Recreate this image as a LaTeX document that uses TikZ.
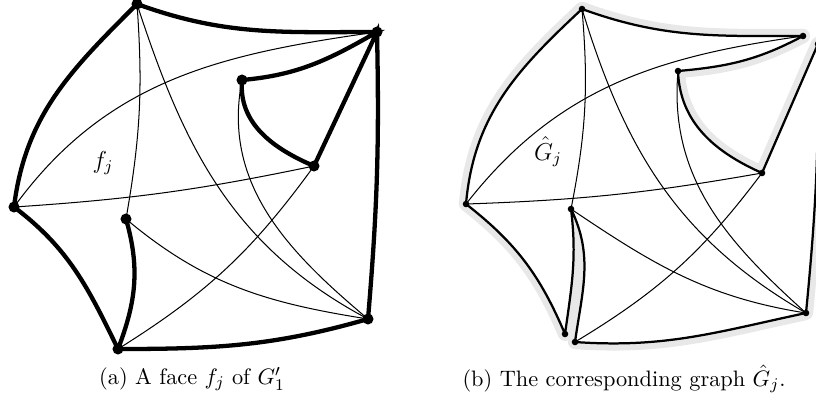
\documentclass[tikz,border=0pt]{standalone}
\usepackage{amsmath,amssymb}

\begin{document}
\begin{tikzpicture}[x=0.49pt, y=0.49pt,
    bdry/.style={line width=2.1pt},
    bdryb/.style={line width=1.1pt, line join=round},
    thinedge/.style={line width=0.5pt},
    halo/.style={draw=black!9, line width=7pt, line join=round, line cap=round},
    capt/.style={font=\fontsize{10.95}{13}\selectfont}]
    \useasboundingbox (0,0) rectangle (816,-407);
    \coordinate (aT) at (137,-4);
    \coordinate (aR) at (377,-32);
    \coordinate (aI) at (242,-80);
    \coordinate (aM) at (314,-166);
    \coordinate (aL) at (14,-207);
    \coordinate (aC) at (126,-219);
    \coordinate (aB) at (118,-349);
    \coordinate (aBR) at (368,-319);
    \draw[thinedge] (aT) to[bend left=7] (aC);
    \draw[thinedge] (aT) to[out=-72,in=152] (aBR);
    \draw[thinedge] (aI) to[out=259,in=140] (aBR);
    \draw[thinedge] (aL) to[out=54,in=188] (aR);
    \draw[thinedge] (aL) to[bend right=4] (aM);
    \draw[thinedge] (aM) to[bend left=11] (aB);
    \draw[thinedge] (aC) to[out=-40,in=171] (aBR);
    \draw[bdry] (aL) to[out=83,in=225] (aT) to[out=-20,in=180] (aR) to[out=210,in=5] (aI)
        to[out=265,in=157] (aM) -- (aR) to[bend left=3] (aBR) to[out=196,in=0] (aB)
        to[out=116,in=-37] (aL);
    \draw[bdry] (aB) to[out=69,in=-74] (aC);
    \foreach \p in {aT,aR,aI,aM,aL,aC,aB,aBR} \fill (\p) circle (2.7pt);
    \node (fj) at (103,-163) {\large $f_j$};
    \node[capt] (capa) at (192,-379) {(a) A face $f_j$ of $G'_1$};
    \coordinate (bT) at (582,-9);
    \coordinate (bR1) at (803,-36);
    \coordinate (bR2) at (818,-44);
    \coordinate (bI) at (678,-71);
    \coordinate (bM) at (762,-173);
    \coordinate (bL) at (466,-204);
    \coordinate (bC) at (571,-209);
    \coordinate (bB1) at (565,-334);
    \coordinate (bB2) at (575,-342);
    \coordinate (bBR) at (806,-313);
    \path[fill=white, preaction={halo}] (bL) to[out=85,in=223] (bT) to[out=-20,in=180] (bR1)
        to[out=208,in=5] (bI) to[out=272,in=156] (bM) -- (bR2) to[bend left=3] (bBR)
        to[out=192,in=-4] (bB2) to[out=82,in=-64] (bC) to[out=277,in=82] (bB1)
        to[out=113,in=-38] (bL) -- cycle;
    \draw[thinedge] (bT) to[bend left=8] (bC);
    \draw[thinedge] (bT) to[out=-73,in=150] (bBR);
    \draw[thinedge] (bI) to[out=265,in=138] (bBR);
    \draw[thinedge] (bL) to[out=52,in=188] (bR1);
    \draw[thinedge] (bL) to[bend right=4] (bM);
    \draw[thinedge] (bM) to[bend left=11] (bB2);
    \draw[thinedge] (bC) to[out=-34,in=171] (bBR);
    \draw[bdryb] (bL) to[out=85,in=223] (bT) to[out=-20,in=180] (bR1)
        to[out=208,in=5] (bI) to[out=272,in=156] (bM) -- (bR2) to[bend left=3] (bBR)
        to[out=192,in=-4] (bB2) to[out=82,in=-64] (bC) to[out=277,in=82] (bB1)
        to[out=113,in=-38] (bL);
    \foreach \p in {bT,bR1,bR2,bI,bM,bL,bC,bB1,bB2,bBR} \fill (\p) circle (1.6pt);
    \node (Gj) at (548,-152) {\large $\hat{G}_j$};
    \node[capt] (capb) at (624,-379) {(b) The corresponding graph $\hat{G}_j$.};
\end{tikzpicture}
\end{document}
